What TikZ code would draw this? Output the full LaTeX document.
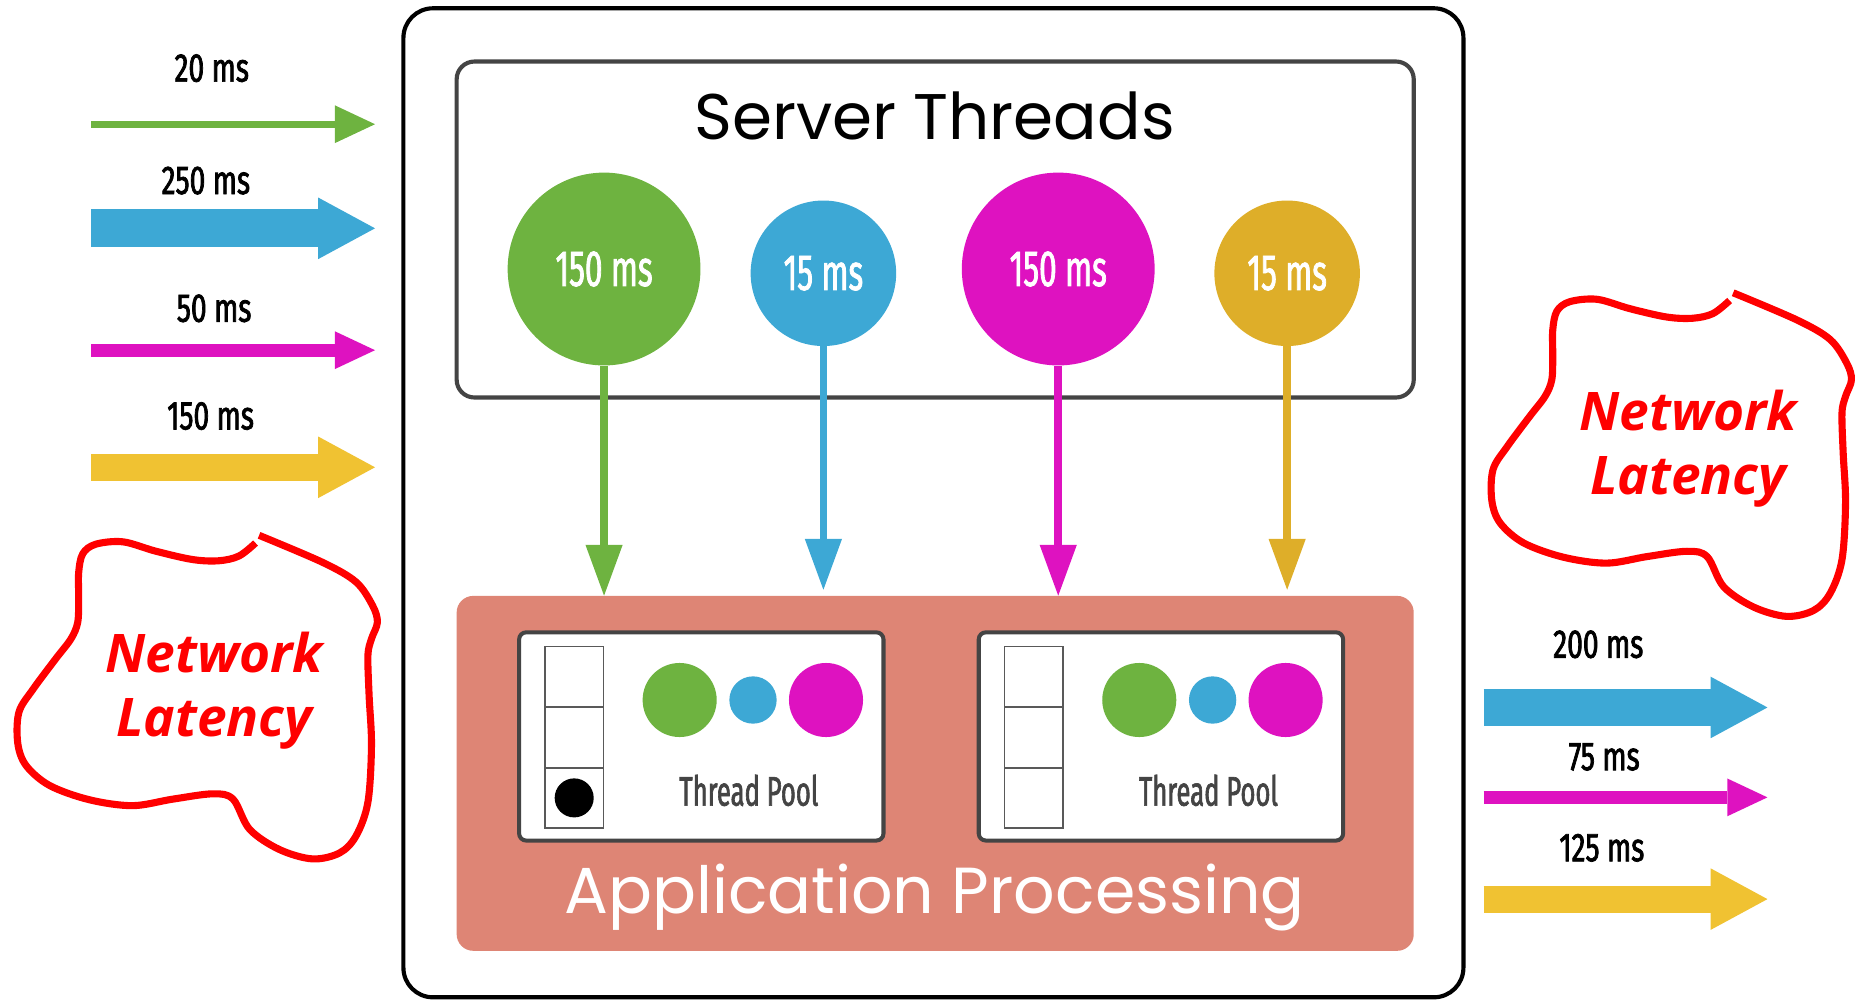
\documentclass[tikz,border=0pt]{standalone}
\usepackage{fontspec}
\usetikzlibrary{arrows.meta}
\newfontfamily\titlefont{Poppins}
\newfontfamily\narrowfont[FakeStretch=0.7, FakeBold=1.8]{Fira Sans}
\newfontfamily\slimfont[FakeStretch=0.62, FakeBold=1.5]{Fira Sans}
\newfontfamily\cloudfont{Open Sans}

\definecolor{tgreen}{HTML}{6EB340}
\definecolor{tblue}{HTML}{3DA8D5}
\definecolor{tpink}{HTML}{DE12C0}
\definecolor{tgold}{HTML}{F0C232}
\definecolor{tdkgold}{HTML}{DEAE29}
\definecolor{salmon}{HTML}{DE8575}
\definecolor{linegray}{HTML}{444444}

\tikzset{
	mslabel/.style={anchor=base, font=\narrowfont\fontsize{34}{38}\selectfont},
	thread/.style={circle, inner sep=0pt, text=white, font=\slimfont\fontsize{43}{46}\selectfont},
	poolbox/.style={draw=linegray, line width=3.4pt, fill=white, rounded corners=6pt},
	cell/.style={draw=gray!70!black, line width=1.5pt, minimum width=49.7pt, minimum height=51.2pt, inner sep=0pt},
	dotfill/.style={circle, inner sep=0pt},
	latency/.style={text=red, align=center, font=\cloudfont\bfseries\itshape\fontsize{45}{54}\selectfont},
	cloudline/.style={red, line width=6pt},
	bigtip/.style={-{Triangle[length=48pt, width=52pt, line width=0pt]}},
	smalltip/.style={-{Triangle[length=34pt, width=32pt, line width=0pt]}},
	droparrow/.style={line width=6.5pt, -{Triangle[length=43pt, width=31.5pt, line width=0pt]}},
}

\begin{document}
\begin{tikzpicture}[x=1pt, y=-1pt]
	\useasboundingbox (0,0) rectangle (1568,845);

	% incoming requests
	\foreach \y/\col/\w/\tip in {105/tgreen/6/smalltip, 193/tblue/32/bigtip, 296/tpink/11/smalltip, 395/tgold/23/bigtip}
		\draw[\tip, \col, line width=\w pt] (77,\y) -- (317,\y);
	\node[mslabel] (in1) at (179,69) {20 ms};
	\node[mslabel] (in2) at (174,164) {250 ms};
	\node[mslabel] (in3) at (181,272) {50 ms};
	\node[mslabel] (in4) at (178,363) {150 ms};

	% outgoing responses
	\foreach \y/\col/\w/\tip in {598/tblue/31/bigtip, 674/tpink/11/smalltip, 760/tgold/23/bigtip}
		\draw[\tip, \col, line width=\w pt] (1254,\y) -- (1494,\y);
	\node[mslabel] (out1) at (1351,556) {200 ms};
	\node[mslabel] (out2) at (1356,651) {75 ms};
	\node[mslabel] (out3) at (1354,728) {125 ms};

	% latency clouds
	\foreach \dx/\dy/\nm in {0/0/eastnet, -1246/205/westnet}{
		\begin{scope}[shift={(\dx,\dy)}]
			\draw[cloudline] plot[smooth, tension=.55] coordinates {(1462,254) (1448,265) (1431,269) (1409,268) (1378,261) (1350,253) (1327,255) (1316,263) (1312.5,279) (1312.5,301) (1311.7,321) (1306,335) (1293,352) (1274,377.5) (1262,397) (1261,423) (1268,442) (1288,459) (1321.5,471) (1358,476) (1392,470.5) (1426,466) (1443,470.5) (1457,496) (1482,513) (1510,521) (1533,516) (1547,501.5) (1557,473) (1560,425) (1558,383) (1557,349) (1560,335) (1565,321) (1561,307) (1547,287) (1519,270.5) (1465,247.5)};
			\node[latency] (\nm) at (1427,379) {Network\\Latency};
		\end{scope}
	}

	% server
	\draw[black, line width=3.5pt, rounded corners=25pt] (341,7) rectangle (1237,843);
	\draw[linegray, line width=3.5pt, rounded corners=15pt] (386,52) rectangle (1195,336);
	\node[anchor=base, font=\titlefont\fontsize{54.5}{60}\selectfont] (threads) at (790,118) {Server Threads};

	\node[thread, fill=tgreen, minimum size=163pt] (t1) at (510.6,227.4) {150 ms};
	\node[thread, fill=tblue, minimum size=123pt] (t2) at (696,231) {15 ms};
	\node[thread, fill=tpink, minimum size=163pt] (t3) at (894.5,227.4) {150 ms};
	\node[thread, fill=tdkgold, minimum size=123pt] (t4) at (1088,231) {15 ms};

	\node[fill=salmon, rounded corners=14pt, minimum width=809pt, minimum height=300pt, inner sep=0pt] (app) at (790.5,653.7) {};
	\node[anchor=base, text=white, font=\titlefont\fontsize{55}{58}\selectfont] (apptitle) at (790,772) {Application Processing};

	\draw[droparrow, tgreen] (t1) -- (t1 |- app.north);
	\draw[droparrow, tblue, shorten >=5pt] (t2) -- (t2 |- app.north);
	\draw[droparrow, tpink] (t3) -- (t3 |- app.north);
	\draw[droparrow, tdkgold, shorten >=5pt] (t4) -- (t4 |- app.north);

	% two thread pools
	\foreach \p/\dx in {1/0, 2/388.5}{
		\begin{scope}[shift={(\dx,0)}]
			\node[poolbox, minimum width=308pt, minimum height=176pt] (pool\p) at (592.8,622.5) {};
			\foreach \c in {0,1,2}
				\node[cell] (q\p-\c) at (485.35,{572.1+51.17*\c}) {};
			\node[dotfill, fill=tgreen, minimum size=62.6pt] (g\p) at (574.5,591.7) {};
			\node[dotfill, fill=tblue, minimum size=40pt] (b\p) at (636.5,591.7) {};
			\node[dotfill, fill=tpink, minimum size=62.6pt] (m\p) at (698.2,591.7) {};
			\node[anchor=base, text=linegray, font=\slimfont\fontsize{35}{38}\selectfont] (poolname\p) at (633,681) {Thread Pool};
		\end{scope}
	}
	\node[dotfill, fill=black, minimum size=33pt] (job) at (q1-2) {};
\end{tikzpicture}
\end{document}
